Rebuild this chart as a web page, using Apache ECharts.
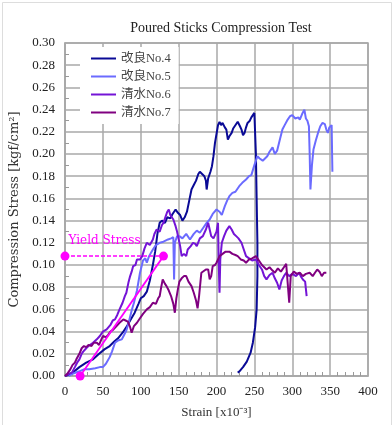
<!DOCTYPE html>
<html>
<head>
<meta charset="utf-8">
<script src="https://cdn.jsdelivr.net/npm/echarts@6/dist/echarts.min.js"></script>
<style>html,body{margin:0;padding:0;background:#fff}#c{width:392px;height:425px}</style>
</head>
<body>
<div id="c"></div>
<script>
const seriesNames = ['改良No.4', '改良No.5', '清水No.6', '清水No.7'];
const seriesColors = ['#0a0a96', '#6b6bff', '#7414d6', '#800080'];
const xTicks = {min: 0, max: 400, interval: 50};
const yTicks = {min: 0, max: 0.30, interval: 0.02};

const no4 = [[0,0],[5,0.001],[10,0.003],[19,0.008],[28,0.012],[37,0.015],[45,0.02],[52,0.024],[59,0.027],[65,0.031],[70,0.034],[76,0.039],[81,0.044],[86,0.05],[92,0.057],[97,0.065],[100,0.07],[104,0.072],[108,0.076],[112,0.086],[116,0.1],[119,0.112],[122,0.128],[125,0.138],[128,0.14],[132,0.138],[135,0.143],[139,0.142],[142,0.146],[146,0.15],[149,0.147],[152,0.145],[155,0.14],[158,0.143],[161,0.148],[164,0.158],[167,0.168],[170,0.172],[173,0.176],[176,0.182],[178,0.184],[181,0.182],[184,0.18],[186,0.176],[187,0.168],[189,0.178],[192,0.184],[194,0.189],[196,0.198],[198,0.21],[200,0.218],[202,0.226],[204,0.229],[206,0.226],[208,0.228],[211,0.224],[213,0.222],[215,0.213],[217,0.216],[220,0.219],[222,0.223],[224,0.224],[226,0.227],[228,0.229],[231,0.225],[233,0.222],[235,0.217],[237,0.219],[239,0.224],[241,0.228],[244,0.23],[246,0.233],[248,0.232],[250,0.237],[252,0.2],[253,0.16],[254,0.12],[254,0.09],[253,0.06],[251,0.044],[248,0.03],[245,0.021],[240,0.013],[235,0.008],[230,0.004],[228,0.003]];

const no5 = [[5,0],[10,0.002],[18,0.004],[25,0.006],[32,0.006],[40,0.007],[46,0.008],[50,0.008],[54,0.011],[59,0.017],[62,0.022],[66,0.03],[70,0.032],[75,0.033],[78,0.037],[81,0.041],[84,0.048],[88,0.059],[91,0.066],[95,0.077],[99,0.093],[103,0.104],[106,0.106],[108,0.102],[111,0.108],[116,0.114],[120,0.118],[125,0.12],[130,0.121],[136,0.123],[140,0.124],[143,0.125],[144,0.087],[145,0.12],[148,0.126],[151,0.126],[155,0.124],[160,0.128],[165,0.123],[170,0.128],[174,0.131],[178,0.129],[183,0.134],[187,0.138],[191,0.141],[195,0.146],[200,0.15],[204,0.148],[207,0.145],[211,0.153],[214,0.158],[217,0.162],[221,0.165],[225,0.166],[230,0.171],[234,0.174],[239,0.177],[243,0.18],[246,0.181],[250,0.19],[254,0.198],[257,0.196],[261,0.194],[263,0.193],[267,0.198],[270,0.202],[274,0.206],[277,0.2],[280,0.203],[284,0.214],[287,0.222],[290,0.226],[294,0.231],[297,0.234],[300,0.235],[304,0.232],[308,0.233],[310,0.231],[313,0.236],[316,0.24],[318,0.232],[320,0.23],[322,0.225],[323,0.2],[324,0.168],[326,0.19],[328,0.204],[331,0.212],[334,0.219],[337,0.225],[340,0.228],[343,0.227],[345,0.222],[347,0.219],[349,0.224],[352,0.226],[353,0.184]];

const no6 = [[0,0],[5,0.002],[9,0.003],[13,0.008],[16,0.012],[19,0.015],[22,0.02],[24,0.022],[28,0.025],[31,0.027],[33,0.028],[37,0.03],[42,0.033],[46,0.036],[50,0.04],[55,0.042],[60,0.046],[63,0.05],[66,0.051],[69,0.055],[72,0.06],[76,0.066],[79,0.072],[81,0.075],[84,0.085],[86,0.09],[88,0.094],[90,0.099],[93,0.1],[95,0.105],[99,0.105],[102,0.108],[105,0.115],[108,0.12],[112,0.118],[116,0.123],[118,0.128],[121,0.132],[125,0.13],[128,0.136],[130,0.138],[133,0.144],[135,0.148],[137,0.15],[139,0.145],[141,0.143],[143,0.141],[146,0.135],[148,0.13],[150,0.129],[152,0.117],[154,0.108],[157,0.11],[160,0.108],[162,0.114],[166,0.117],[169,0.12],[172,0.119],[174,0.117],[178,0.124],[182,0.126],[186,0.132],[189,0.138],[191,0.132],[193,0.126],[196,0.124],[198,0.123],[200,0.13],[202,0.138],[203,0.1],[204,0.075],[205,0.105],[207,0.12],[210,0.126],[213,0.131],[217,0.135],[220,0.132],[223,0.128],[226,0.126],[229,0.124],[233,0.12],[236,0.114],[239,0.108],[243,0.106],[247,0.104],[252,0.105],[256,0.1],[260,0.096],[263,0.09],[266,0.087],[270,0.091],[274,0.093],[277,0.088],[280,0.084],[283,0.078],[286,0.086],[289,0.09],[292,0.093],[296,0.09],[300,0.092],[305,0.09],[309,0.093],[312,0.089],[314,0.087],[317,0.085],[319,0.072]];

const no7 = [[0,0],[3,0.002],[7,0.006],[10,0.01],[13,0.012],[15,0.015],[19,0.02],[22,0.025],[25,0.027],[28,0.026],[31,0.028],[35,0.027],[38,0.03],[42,0.03],[45,0.028],[48,0.033],[50,0.036],[54,0.035],[57,0.037],[60,0.04],[64,0.042],[68,0.045],[72,0.048],[77,0.051],[80,0.05],[83,0.049],[86,0.044],[88,0.039],[91,0.045],[95,0.048],[99,0.052],[103,0.056],[108,0.06],[112,0.062],[116,0.066],[120,0.065],[123,0.07],[125,0.072],[127,0.08],[129,0.087],[132,0.083],[134,0.081],[137,0.077],[140,0.072],[143,0.065],[145,0.057],[147,0.07],[149,0.078],[151,0.085],[154,0.088],[157,0.09],[160,0.09],[163,0.085],[167,0.081],[170,0.075],[173,0.068],[175,0.061],[177,0.072],[180,0.093],[182,0.093],[186,0.096],[189,0.096],[191,0.087],[193,0.09],[195,0.099],[198,0.1],[200,0.102],[204,0.108],[208,0.11],[212,0.112],[217,0.112],[221,0.11],[225,0.109],[228,0.108],[232,0.105],[236,0.104],[239,0.102],[243,0.105],[247,0.106],[252,0.108],[256,0.104],[260,0.1],[263,0.098],[266,0.096],[270,0.098],[274,0.095],[277,0.093],[281,0.097],[285,0.094],[289,0.098],[292,0.101],[294,0.102],[296,0.066],[298,0.09],[302,0.094],[306,0.092],[310,0.093],[314,0.09],[318,0.092],[323,0.093],[327,0.09],[330,0.093],[333,0.096],[336,0.094],[339,0.09],[342,0.093],[345,0.093]];

const yieldDashed = [[0, 0.108], [130, 0.108]];
const yieldSlope = [[20, 0], [130, 0.108]];
const yieldLabel = 'Yield Stress';

const serif = '"Liberation Serif", "Noto Sans CJK JP", serif';
const gridColor = '#a8a8a8';

const chart = echarts.init(document.getElementById('c'), null, {renderer: 'canvas'});
const dataSets = [no4, no5, no6, no7];

const series = dataSets.map((d, i) => ({
  name: seriesNames[i],
  type: 'line',
  data: d,
  showSymbol: false,
  symbol: 'none',
  lineStyle: {color: seriesColors[i], width: 2},
  itemStyle: {color: seriesColors[i]},
  animation: false
}));

series.push({
  name: 'yieldDashed',
  type: 'line',
  data: yieldDashed.map((p, i) => i === 0 ? {value: p, label: {show: true, formatter: yieldLabel, position: [8, -17], color: '#ff00ff', fontFamily: '"DejaVu Serif", serif', fontSize: 12}} : p),
  symbol: 'circle',
  symbolSize: 9,
  showAllSymbol: true,
  lineStyle: {color: '#ff00ff', width: 1.5, type: [4, 2]},
  itemStyle: {color: '#ff00ff'},
  z: 5,
  animation: false
});
series.push({
  name: 'yieldSlope',
  type: 'line',
  data: yieldSlope.map((p, i) => i === 0 ? {value: p, symbol: 'circle'} : {value: p, symbol: 'none'}),
  symbolSize: 9,
  showAllSymbol: true,
  lineStyle: {color: '#ff00ff', width: 1.8},
  itemStyle: {color: '#ff00ff'},
  z: 5,
  animation: false
});

chart.setOption({
  backgroundColor: '#fff',
  animation: false,
  title: {
    text: 'Poured Sticks Compression Test',
    left: 216, textAlign: 'center', top: 16,
    textStyle: {fontFamily: serif, fontSize: 14, fontWeight: 'normal', color: '#222'}
  },
  legend: {
    data: seriesNames,
    orient: 'vertical',
    left: 80, top: 47,
    padding: [5, 8, 5, 11],
    backgroundColor: '#fff',
    icon: 'rect',
    itemWidth: 25, itemHeight: 2,
    itemGap: 5,
    textStyle: {fontFamily: serif, fontSize: 12.5, lineHeight: 13, color: '#444'}
  },
  grid: {left: 65, right: 24, top: 43, bottom: 49, show: true, borderColor: gridColor, borderWidth: 1.5, backgroundColor: 'transparent', outerBoundsMode: 'none', containLabel: false},
  xAxis: {
    type: 'value', min: xTicks.min, max: xTicks.max, interval: xTicks.interval,
    name: 'Strain [x10⁻³]', nameLocation: 'middle', nameGap: 30,
    nameTextStyle: {fontFamily: serif, fontSize: 13, color: '#333'},
    axisLine: {show: true, lineStyle: {color: gridColor, width: 1.5}},
    axisTick: {show: true, inside: true, length: 0},
    minorTick: {show: true, splitNumber: 5, length: 4, lineStyle: {color: '#999'}},
    axisLabel: {fontFamily: serif, fontSize: 13, color: '#222', margin: 9},
    splitLine: {show: true, lineStyle: {color: gridColor, width: 1.5}}
  },
  yAxis: {
    type: 'value', min: yTicks.min, max: yTicks.max, interval: yTicks.interval,
    name: 'Compression Stress [kgf/cm²]', nameLocation: 'middle', nameGap: 44,
    nameTextStyle: {fontFamily: '"DejaVu Serif", serif', fontSize: 13, color: '#333'},
    axisLine: {show: true, lineStyle: {color: gridColor, width: 1.5}},
    axisTick: {show: true, inside: true, length: 0},
    minorTick: {show: true, splitNumber: 2, length: 4, lineStyle: {color: '#999'}},
    axisLabel: {fontFamily: serif, fontSize: 13, color: '#222', margin: 10, formatter: v => v.toFixed(2)},
    splitLine: {show: true, lineStyle: {color: gridColor, width: 1.5}}
  },
  graphic: [{
    type: 'rect', left: 0, top: 0, silent: true,
    shape: {x: 0.5, y: 0.5, width: 389, height: 423},
    style: {fill: null, stroke: '#dddddd', lineWidth: 1}
  }],
  series: series
});
</script>
</body>
</html>
